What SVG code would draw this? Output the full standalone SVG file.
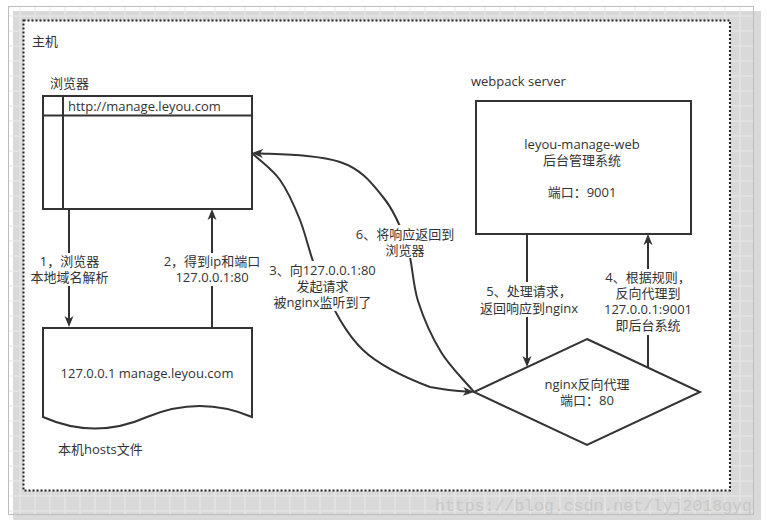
<svg xmlns="http://www.w3.org/2000/svg" width="767" height="527" viewBox="0 0 767 527">
<defs>
<pattern id="grid" width="15" height="15" patternUnits="userSpaceOnUse" x="4.5" y="0.5">
<path d="M0 0.5H15M0.5 0V15" stroke="#e8e8e8" stroke-width="1" fill="none"/>
</pattern>
<marker id="arr" markerWidth="12" markerHeight="10" refX="7" refY="5" orient="auto" markerUnits="userSpaceOnUse">
<path d="M0,0.5 L11,5 L0,9.5 L3,5 Z" fill="#333"/>
</marker>
<clipPath id="wmclip"><rect x="0" y="0" width="753" height="527"/></clipPath>
</defs>
<style>
.t{font-family:"Open Sans","Noto Sans CJK SC",sans-serif;font-size:13px;fill:#333}
.m{text-anchor:middle}
.sh{fill:#fff;stroke:#333;stroke-width:2}
.ln{fill:none;stroke:#333;stroke-width:2}
.bg{fill:#fff}
</style>
<rect x="0" y="0" width="767" height="527" fill="#fff"/>
<rect x="13" y="11" width="748" height="509" fill="#d9d9d9"/>
<rect x="8.5" y="6.5" width="745" height="508" fill="url(#grid)" stroke="#bdbdbd" stroke-width="1"/>

<g id="host">
<rect x="23.5" y="20.5" width="706.5" height="470" fill="#fff" stroke="#222" stroke-width="2" stroke-dasharray="2 2"/>
<text class="t" x="32" y="46">主机</text>
</g>

<g id="browser">
<text class="t" x="50" y="88">浏览器</text>
<rect class="sh" x="43" y="96" width="209" height="113"/>
<path class="ln" d="M43 115.5H252M63 96V209"/>
<text class="t" x="68" y="110.5">http://manage.leyou.com</text>
</g>

<g id="hosts">
<path class="sh" d="M43,328 H252 V417 Q200,395 147,417 Q95,440 43,417 Z"/>
<text class="t m" x="147" y="377.5">127.0.0.1 manage.leyou.com</text>
<text class="t" x="58" y="454">本机hosts文件</text>
</g>

<g id="server">
<text class="t" x="471" y="86">webpack server</text>
<rect class="sh" x="476" y="101" width="215" height="133"/>
<text class="t m" x="582" y="148.5">leyou-manage-web<tspan x="582" dy="16">后台管理系统</tspan><tspan x="582" dy="32">端口：9001</tspan></text>
</g>

<g id="nginx">
<path class="sh" d="M587,339 L700,392 L587,445 L474,392 Z"/>
<text class="t m" x="587" y="388.5">nginx反向代理<tspan x="587" dy="16">端口：80</tspan></text>
</g>

<g id="connectors">
<path class="ln" d="M69 209V323" marker-end="url(#arr)"/>
<path class="ln" d="M212 327V213" marker-end="url(#arr)"/>
<path class="ln" d="M527 234V363" marker-end="url(#arr)"/>
<path class="ln" d="M648 367.5V238" marker-end="url(#arr)"/>
<path class="ln" d="M252,153 C261.3,162 272,168.8 280,180 C288,191.2 293,202.5 300,220 C307,237.5 311.5,263.3 322,285 C332.5,306.7 345,333 363,350 C381,367 411.5,380 430,387 C448,390.5 457,391 470,391.8" marker-end="url(#arr)"/>
<path class="ln" d="M474,392 C463,378.7 450.3,367.2 441,352 C431.7,336.8 423.7,318.8 418,301 C412.3,283.2 412.8,262.3 407,245 C401.2,227.7 394.2,210.8 383,197 C371.8,183.2 361.8,169.3 340,162 C318.2,154.7 283,154.5 256,153.2" marker-end="url(#arr)"/>

<rect class="bg" x="30" y="253" width="79" height="33"/>
<text class="t m" x="69.5" y="266">1，浏览器<tspan x="69.5" dy="16">本地域名解析</tspan></text>

<rect class="bg" x="163" y="253" width="98" height="33"/>
<text class="t m" x="212" y="266">2，得到ip和端口<tspan x="212" dy="16">127.0.0.1:80</tspan></text>

<rect class="bg" x="268" y="261" width="109" height="50"/>
<text class="t m" x="322.5" y="274.5">3、向127.0.0.1:80<tspan x="322.5" dy="16">发起请求</tspan><tspan x="322.5" dy="16">被nginx监听到了</tspan></text>

<rect class="bg" x="354" y="225" width="103" height="33"/>
<text class="t m" x="405" y="238.5">6、将响应返回到<tspan x="405" dy="16">浏览器</tspan></text>

<rect class="bg" x="478" y="282" width="104" height="35"/>
<text class="t m" x="529" y="296">5、处理请求，<tspan x="529" dy="17">返回响应到nginx</tspan></text>

<rect class="bg" x="602" y="269" width="92" height="66"/>
<text class="t m" x="648" y="282">4、根据规则，<tspan x="648" dy="16">反向代理到</tspan><tspan x="648" dy="16">127.0.0.1:9001</tspan><tspan x="648" dy="16">即后台系统</tspan></text>
</g>

<g clip-path="url(#wmclip)">
<text x="435" y="511" font-family="Liberation Mono, monospace" font-size="16.5" fill="#c8c8c8">https://blog.csdn.net/lyj2018gyq</text>
</g>
</svg>
